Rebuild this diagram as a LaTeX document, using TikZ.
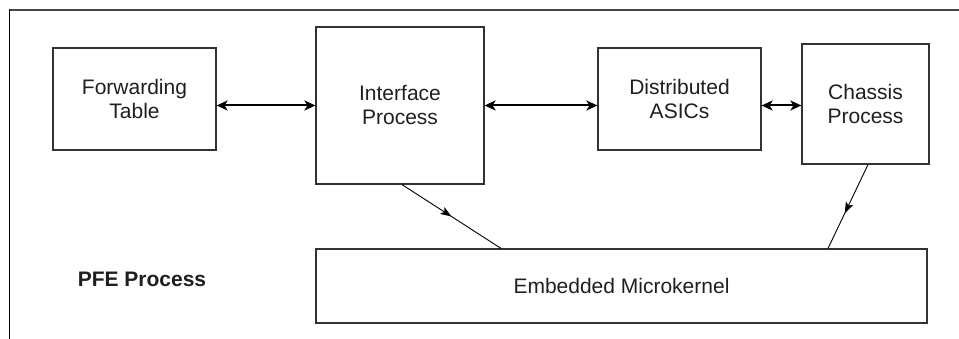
\documentclass[tikz,border=0pt]{standalone}
\usepackage{fontspec}
\setmainfont{Liberation Sans}
\usetikzlibrary{arrows.meta,decorations.markings}
\begin{document}
\begin{tikzpicture}[x=1pt,y=-1pt,
  box/.style={draw=black!80, line width=1.2pt, inner sep=0pt, align=center,
    text=black!88, font=\fontsize{21}{24}\selectfont},
  biarrow/.style={line width=2pt, {Stealth[length=11pt,width=10pt,inset=3pt]}-{Stealth[length=11pt,width=10pt,inset=3pt]}},
  midarrow/.style={line width=0.9pt, decoration={markings,
    mark=at position #1 with {\arrow{Stealth[length=11pt,width=8pt,inset=2.5pt]}}},
    postaction={decorate}}
]
\useasboundingbox (0,0) rectangle (959,339);
% frame
\draw[line width=2pt, black!72] (9,10) -- (959,10);
\draw[line width=1.5pt, black] (9.5,9) -- (9.5,339);
% boxes
\node[box, minimum width=163pt, minimum height=102pt] (ft) at (134.5,99) {Forwarding\\Table};
\node[box, minimum width=168pt, minimum height=157pt] (ip) at (400,105.5) {Interface\\Process};
\node[box, minimum width=163pt, minimum height=102pt] (da) at (679.5,99) {Distributed\\ASICs};
\node[box, minimum width=127pt, minimum height=120pt] (cp) at (865.5,104) {Chassis\\Process};
\node[box, minimum width=611pt, minimum height=74pt] (em) at (621.5,286) {Embedded Microkernel};
\node[text=black!88, font=\fontsize{21}{24}\selectfont\bfseries, inner sep=0pt] (pfe) at (142,279) {PFE Process};
% connectors
\draw[biarrow] (ft.east |- ip.west) -- (ip.west);
\draw[biarrow] (ip.east) -- (ip.east -| da.west);
\draw[biarrow] (da.east |- ip.east) -- (cp.west |- ip.east);
\draw[midarrow=0.5] ([xshift=2pt]ip.south) -- ([xshift=-120.5pt]em.north);
\draw[midarrow=0.58] ([xshift=2.5pt]cp.south) -- ([xshift=206.5pt]em.north);
\end{tikzpicture}
\end{document}
